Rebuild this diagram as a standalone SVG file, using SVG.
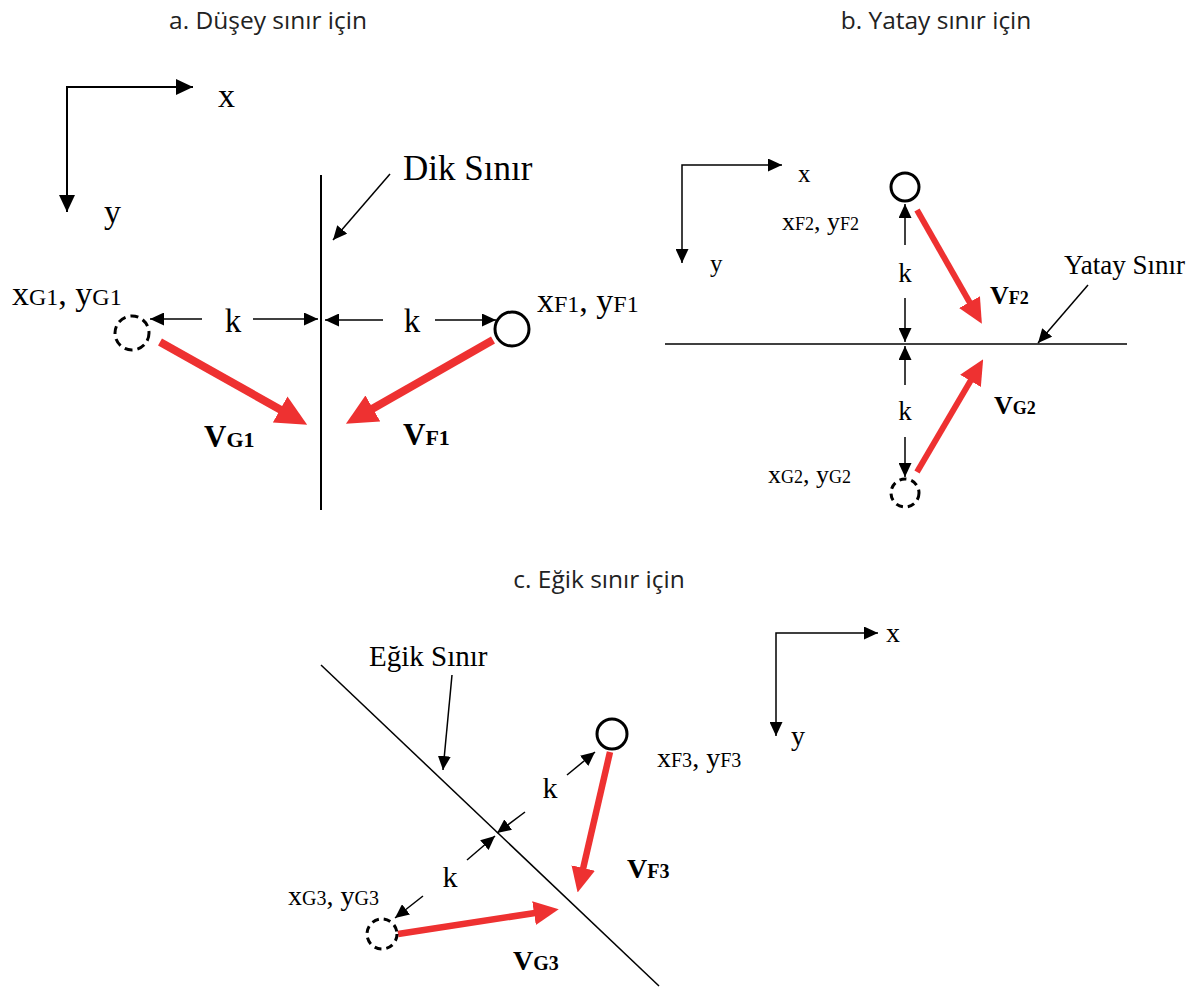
<svg xmlns="http://www.w3.org/2000/svg" width="1199" height="993" viewBox="0 0 1199 993">
<defs>
<style>
.title{font-family:"Open Sans","Noto Sans","Liberation Sans",sans-serif;fill:#222}
.lbl{font-family:"Liberation Serif","Times New Roman",serif;fill:#000}
.bold{font-weight:bold}
.ln{stroke:#000;fill:none}
.red{stroke:#EE3131;fill:none}
.node-solid{fill:#fff;stroke:#000;stroke-width:3}
.node-dash{fill:#fff;stroke:#000;stroke-width:3;stroke-dasharray:8 5}
</style>
<marker id="axA" markerUnits="userSpaceOnUse" markerWidth="18" markerHeight="16" refX="17" refY="8" orient="auto-start-reverse" viewBox="0 0 18 16"><path d="M0,0 L17,8 L0,16 z" fill="#000"/></marker>
<marker id="axS" markerUnits="userSpaceOnUse" markerWidth="15" markerHeight="13" refX="14" refY="6.5" orient="auto-start-reverse" viewBox="0 0 15 13"><path d="M0,0 L14,6.5 L0,13 z" fill="#000"/></marker>
<marker id="bk" markerUnits="userSpaceOnUse" markerWidth="15" markerHeight="13" refX="14" refY="6.5" orient="auto" viewBox="0 0 15 13"><path d="M0,0 L14,6.5 L0,13 z" fill="#000"/></marker>
<marker id="rB" markerUnits="userSpaceOnUse" markerWidth="31" markerHeight="30" refX="1" refY="15" orient="auto" viewBox="0 0 31 30"><path d="M0,0 L31,15 L0,30 z" fill="#EE3131"/></marker>
<marker id="rS" markerUnits="userSpaceOnUse" markerWidth="25" markerHeight="24" refX="1" refY="12" orient="auto" viewBox="0 0 25 24"><path d="M0,0 L25,12 L0,24 z" fill="#EE3131"/></marker>
</defs>
<rect width="1199" height="993" fill="#fff"/>

<!-- Titles -->
<text class="title" x="268" y="29" font-size="24.5" text-anchor="middle">a. Düşey sınır için</text>
<text class="title" x="936" y="29" font-size="24.5" text-anchor="middle">b. Yatay sınır için</text>
<text class="title" x="599" y="588" font-size="24.5" text-anchor="middle">c. Eğik sınır için</text>

<g id="connectors">
  <!-- panel a -->
  <path class="ln" stroke-width="2" d="M193,87 L67,87 L67,212" marker-start="url(#axA)" marker-end="url(#axA)"/>
  <line class="ln" stroke-width="2" x1="321" y1="175" x2="321" y2="510"/>
  <line class="ln" stroke-width="1.5" x1="390" y1="174" x2="333" y2="240" marker-end="url(#bk)"/>
  <line class="ln" stroke-width="1.5" x1="202" y1="319" x2="150" y2="319" marker-end="url(#bk)"/>
  <line class="ln" stroke-width="1.5" x1="253" y1="319" x2="318" y2="319" marker-end="url(#bk)"/>
  <line class="ln" stroke-width="1.5" x1="383" y1="320" x2="325" y2="320" marker-end="url(#bk)"/>
  <line class="ln" stroke-width="1.5" x1="435" y1="320" x2="496" y2="320" marker-end="url(#bk)"/>
  <line class="red" stroke-width="8" x1="160" y1="342" x2="281" y2="410" marker-end="url(#rB)"/>
  <line class="red" stroke-width="8" x1="493" y1="340" x2="372" y2="409" marker-end="url(#rB)"/>

  <!-- panel b -->
  <path class="ln" stroke-width="1.5" d="M782,165 L682,165 L682,263" marker-start="url(#axS)" marker-end="url(#axS)"/>
  <line class="ln" stroke-width="1.5" x1="665" y1="344" x2="1127" y2="344"/>
  <line class="ln" stroke-width="1.5" x1="1088" y1="285" x2="1038" y2="343" marker-end="url(#bk)"/>
  <line class="ln" stroke-width="1.5" x1="905" y1="245" x2="905" y2="204" marker-end="url(#bk)"/>
  <line class="ln" stroke-width="1.5" x1="905" y1="298" x2="905" y2="342" marker-end="url(#bk)"/>
  <line class="ln" stroke-width="1.5" x1="905" y1="385" x2="905" y2="346" marker-end="url(#bk)"/>
  <line class="ln" stroke-width="1.5" x1="905" y1="437" x2="905" y2="477" marker-end="url(#bk)"/>
  <line class="red" stroke-width="6" x1="917" y1="210" x2="970" y2="303" marker-end="url(#rS)"/>
  <line class="red" stroke-width="6" x1="917" y1="472" x2="971" y2="380" marker-end="url(#rS)"/>

  <!-- panel c -->
  <path class="ln" stroke-width="1.5" d="M878,633 L776,633 L776,736" marker-start="url(#axS)" marker-end="url(#axS)"/>
  <line class="ln" stroke-width="1.5" x1="321" y1="665" x2="659" y2="986"/>
  <line class="ln" stroke-width="1.5" x1="452" y1="675" x2="443" y2="770" marker-end="url(#bk)"/>
  <line class="ln" stroke-width="1.5" x1="567" y1="775" x2="595" y2="752" marker-end="url(#bk)"/>
  <line class="ln" stroke-width="1.5" x1="525" y1="812" x2="497" y2="833" marker-end="url(#bk)"/>
  <line class="ln" stroke-width="1.5" x1="467" y1="860" x2="495" y2="836" marker-end="url(#bk)"/>
  <line class="ln" stroke-width="1.5" x1="423" y1="896" x2="395" y2="918" marker-end="url(#bk)"/>
  <line class="red" stroke-width="6.5" x1="610" y1="752" x2="583" y2="869" marker-end="url(#rS)"/>
  <line class="red" stroke-width="6.5" x1="398" y1="934" x2="535" y2="913" marker-end="url(#rS)"/>
</g>

<!-- Panel a nodes -->
<g id="nodeG1">
  <circle class="node-dash" cx="132" cy="333" r="17"/>
  <text class="lbl" x="12" y="305" font-size="34">x<tspan font-size="24">G1</tspan>, y<tspan font-size="24">G1</tspan></text>
</g>
<g id="nodeF1">
  <circle class="node-solid" cx="512" cy="329" r="17"/>
  <text class="lbl" x="537" y="312" font-size="34">x<tspan font-size="24">F1</tspan>, y<tspan font-size="24">F1</tspan></text>
</g>
<g id="labelsA">
  <text class="lbl" x="218" y="107" font-size="34">x</text>
  <text class="lbl" x="104" y="223" font-size="34">y</text>
  <text class="lbl" x="403" y="180" font-size="35">Dik Sınır</text>
  <text class="lbl" x="233" y="332" font-size="33" text-anchor="middle">k</text>
  <text class="lbl" x="412" y="332" font-size="33" text-anchor="middle">k</text>
  <text class="lbl bold" x="204" y="447" font-size="31">V<tspan font-size="22">G1</tspan></text>
  <text class="lbl bold" x="403" y="445" font-size="31">V<tspan font-size="22">F1</tspan></text>
</g>

<!-- Panel b nodes -->
<g id="nodeF2">
  <circle class="node-solid" cx="905" cy="187" r="14"/>
  <text class="lbl" x="782" y="230" font-size="26">x<tspan font-size="18">F2</tspan>, y<tspan font-size="18">F2</tspan></text>
</g>
<g id="nodeG2">
  <circle class="node-dash" cx="905" cy="493" r="14" style="stroke-dasharray:7 5"/>
  <text class="lbl" x="768" y="483" font-size="26">x<tspan font-size="18">G2</tspan>, y<tspan font-size="18">G2</tspan></text>
</g>
<g id="labelsB">
  <text class="lbl" x="798" y="182" font-size="25">x</text>
  <text class="lbl" x="710" y="272" font-size="25">y</text>
  <text class="lbl" x="1064" y="274" font-size="27">Yatay Sınır</text>
  <text class="lbl" x="905" y="282" font-size="27" text-anchor="middle">k</text>
  <text class="lbl" x="905" y="420" font-size="27" text-anchor="middle">k</text>
  <text class="lbl bold" x="990" y="304" font-size="26">V<tspan font-size="18">F2</tspan></text>
  <text class="lbl bold" x="994" y="414" font-size="26">V<tspan font-size="18">G2</tspan></text>
</g>

<!-- Panel c nodes -->
<g id="nodeF3">
  <circle class="node-solid" cx="612" cy="734" r="15"/>
  <text class="lbl" x="657" y="767" font-size="28">x<tspan font-size="20">F3</tspan>, y<tspan font-size="20">F3</tspan></text>
</g>
<g id="nodeG3">
  <circle class="node-dash" cx="382" cy="934" r="15" style="stroke-dasharray:7 5"/>
  <text class="lbl" x="288" y="905" font-size="28">x<tspan font-size="20">G3</tspan>, y<tspan font-size="20">G3</tspan></text>
</g>
<g id="labelsC">
  <text class="lbl" x="886" y="642" font-size="28">x</text>
  <text class="lbl" x="791" y="745" font-size="28">y</text>
  <text class="lbl" x="369" y="666" font-size="29">Eğik Sınır</text>
  <text class="lbl" x="550" y="798" font-size="30" text-anchor="middle">k</text>
  <text class="lbl" x="450" y="887" font-size="30" text-anchor="middle">k</text>
  <text class="lbl bold" x="627" y="878" font-size="28">V<tspan font-size="20">F3</tspan></text>
  <text class="lbl bold" x="513" y="970" font-size="28">V<tspan font-size="20">G3</tspan></text>
</g>
</svg>
